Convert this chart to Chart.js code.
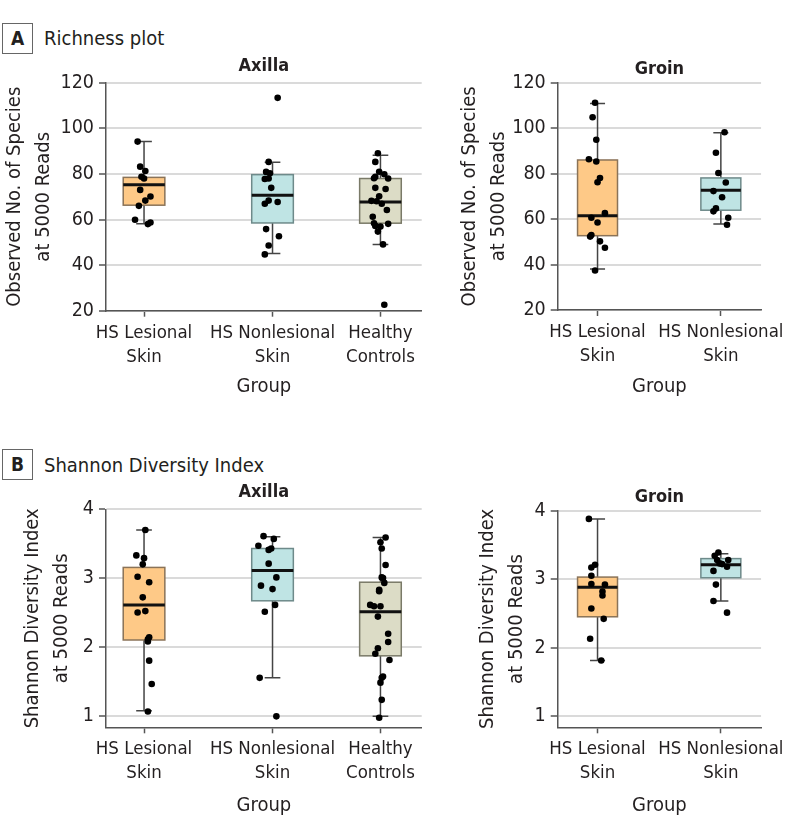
<!DOCTYPE html>
<html>
<head>
<meta charset="utf-8">
<script src="https://cdn.jsdelivr.net/npm/chart.js@4"></script>
<style>
  body { margin: 0; background: #fff; font-family: 'DejaVu Sans Condensed', 'Liberation Sans', Arial, sans-serif; color: #231f20; }
  #page { position: relative; width: 794px; height: 839px; overflow: hidden; }
  .tag { position: absolute; left: 2px; width: 29px; height: 29px; border: 1.5px solid #666; font-weight: bold; font-size: 19px; line-height: 29px; text-align: center; }
  .head { position: absolute; left: 44px; font-size: 20px; line-height: 24px; }
  canvas { position: absolute; }
</style>
</head>
<body>
<div id="page">
  <div class="tag" style="top:23px">A</div>
  <div class="head" style="top:26px">Richness plot</div>
  <div class="tag" style="top:449px">B</div>
  <div class="head" style="top:453px">Shannon Diversity Index</div>
  <canvas id="richAxilla" width="440" height="350" style="left:0;top:55px"></canvas>
  <canvas id="richGroin" width="354" height="350" style="left:440px;top:55px"></canvas>
  <canvas id="shanAxilla" width="440" height="343" style="left:0;top:481px"></canvas>
  <canvas id="shanGroin" width="354" height="343" style="left:440px;top:481px"></canvas>
</div>
<script>
// groups and ticks
const groupLabels = [['HS Lesional', 'Skin'], ['HS Nonlesional', 'Skin'], ['Healthy', 'Controls']];
const richTicks = [20, 40, 60, 80, 100, 120];
const shanTicks = [1, 2, 3, 4];

// box stats: [whisker low, Q1, median, Q3, whisker high]
const richAxillaBoxes = [[58.1, 66.3, 75.3, 78.5, 94.2], [45.1, 58.5, 70.7, 79.7, 85.1], [49.1, 58.4, 67.7, 78.0, 88.2]];
const richGroinBoxes = [[38.0, 52.7, 61.5, 86.0, 110.8], [57.8, 63.9, 72.7, 78.1, 98.0]];
const shanAxillaBoxes = [[1.07, 2.10, 2.61, 3.155, 3.70], [1.55, 2.67, 3.11, 3.43, 3.60], [0.99, 1.87, 2.51, 2.94, 3.59]];
const shanGroinBoxes = [[1.81, 2.45, 2.88, 3.03, 3.88], [2.68, 3.02, 3.21, 3.30, 3.37]];

// samples (values) and their horizontal jitter (fraction of group spacing)
const richAxLes = [94.2, 83.2, 81.3, 78.8, 78.0, 73.0, 70.1, 68.3, 66.0, 59.9, 58.0, 58.7];
const richAxLesJit = [-0.05, -0.03, 0.01, -0.02, 0, -0.03, 0.05, 0.01, -0.04, -0.07, 0.03, 0.05];
const richAxNon = [113.4, 85.3, 80.9, 80.3, 77.8, 78.0, 73.9, 68.3, 66.9, 67.7, 55.8, 52.7, 48.6, 44.7];
const richAxNonJit = [0.04, -0.03, -0.05, -0.02, -0.06, -0.03, -0.01, -0.03, -0.06, 0.04, -0.05, 0.05, -0.03, -0.06];
const richAxCtl = [89.1, 85.3, 81.0, 78.8, 78.1, 79.9, 78.0, 73.9, 73.4, 70.2, 68.2, 68.0, 66.9, 64.2, 61.2, 58.4, 58.1, 57.2, 56.9, 54.7, 49.1, 22.6];
const richAxCtlJit = [-0.02, -0.04, -0.01, -0.04, -0.05, 0.03, 0.06, -0.04, 0.04, -0.01, -0.07, -0.03, 0.01, 0.05, -0.06, -0.05, 0.06, -0.04, 0, -0.02, 0.02, 0.03];
const richGrLes = [111.2, 104.8, 94.9, 86.3, 85.3, 78.1, 76.2, 62.6, 60.6, 58.5, 53.0, 52.3, 50.2, 47.4, 37.4];
const richGrLesJit = [-0.02, -0.04, -0.01, -0.07, -0.01, 0.02, 0, 0.06, -0.05, 0, -0.05, -0.06, 0.02, 0.06, -0.02];
const richGrNon = [98.2, 89.2, 80.3, 76.1, 72.3, 69.6, 64.7, 63.4, 60.6, 57.5];
const richGrNonJit = [0.03, -0.04, -0.02, 0.04, -0.06, 0.01, -0.04, -0.06, 0.06, 0.05];

const shanAxLes = [3.70, 3.33, 3.29, 3.20, 3.02, 2.94, 2.72, 2.50, 2.52, 2.14, 2.11, 2.08, 1.80, 1.46, 1.06];
const shanAxLesJit = [0.01, -0.06, 0, -0.01, -0.05, 0.04, -0.01, -0.05, 0.01, 0.04, 0.03, 0.03, 0.04, 0.06, 0.03];
const shanAxNon = [3.61, 3.57, 3.47, 3.41, 3.43, 3.21, 3.01, 2.89, 2.84, 2.61, 2.51, 1.55, 0.99];
const shanAxNonJit = [-0.07, 0.01, -0.11, -0.03, -0.01, -0.03, 0.03, -0.09, 0, 0.02, -0.06, -0.1, 0.03];
const shanAxCtl = [3.59, 3.52, 3.43, 3.19, 3.01, 3.00, 2.93, 2.83, 2.81, 2.61, 2.59, 2.59, 2.44, 2.19, 2.07, 1.98, 1.90, 1.81, 1.57, 1.55, 1.48, 1.23, 0.97];
const shanAxCtlJit = [0.04, 0, 0.01, 0.04, 0.01, 0.02, 0.03, -0.01, -0.01, -0.08, -0.05, 0, -0.02, 0.06, 0.06, -0.02, -0.04, 0.07, 0.02, 0.01, 0, 0.01, -0.01];
const shanGrLes = [3.88, 3.21, 3.17, 3.05, 2.93, 2.92, 2.82, 2.76, 2.57, 2.42, 2.13, 1.81];
const shanGrLesJit = [-0.07, -0.02, -0.05, -0.05, -0.05, 0.06, 0.04, 0.04, -0.05, 0.05, -0.06, 0.03];
const shanGrNon = [3.39, 3.34, 3.28, 3.28, 3.23, 3.22, 3.18, 3.12, 2.92, 2.68, 2.51];
const shanGrNonJit = [-0.02, -0.05, -0.03, 0.06, -0.01, 0.01, 0.05, -0.06, -0.04, -0.06, 0.05];

// styling
const boxFills = ['#fec987', '#bfe4e4', '#dcdcc6'];
const boxBorders = ['#8a7358', '#6e8a8a', '#7a7a68'];
const axisColor = '#555';
const textColor = '#231f20';

Chart.defaults.font.family = "'DejaVu Sans Condensed', 'Liberation Sans', Arial, sans-serif";
Chart.defaults.color = textColor;

function boxPlugin(stats, pos) {
  return {
    id: 'boxes',
    beforeDatasetsDraw(chart) {
      const { ctx, scales: { x, y } } = chart;
      const half = 0.162, cap = 0.061;
      stats.forEach((s, i) => {
        const cx = x.getPixelForValue(pos[i]);
        const l = x.getPixelForValue(pos[i] - half), r = x.getPixelForValue(pos[i] + half);
        const cl = x.getPixelForValue(pos[i] - cap), cr = x.getPixelForValue(pos[i] + cap);
        const [lo, q1, med, q3, hi] = s.map(v => y.getPixelForValue(v));
        ctx.save();
        ctx.strokeStyle = '#444';
        ctx.lineWidth = 1.5;
        ctx.beginPath();
        ctx.moveTo(cx, q3); ctx.lineTo(cx, hi);
        ctx.moveTo(cl, hi); ctx.lineTo(cr, hi);
        ctx.moveTo(cx, q1); ctx.lineTo(cx, lo);
        ctx.moveTo(cl, lo); ctx.lineTo(cr, lo);
        ctx.stroke();
        ctx.fillStyle = boxFills[i];
        ctx.fillRect(l, q3, r - l, q1 - q3);
        ctx.strokeStyle = boxBorders[i];
        ctx.strokeRect(l, q3, r - l, q1 - q3);
        ctx.strokeStyle = '#111';
        ctx.lineWidth = 3;
        ctx.beginPath();
        ctx.moveTo(l, med); ctx.lineTo(r, med);
        ctx.stroke();
        ctx.restore();
      });
    }
  };
}

function makePlot(id, cfg) {
  const points = [];
  cfg.samples.forEach((vals, i) => {
    vals.forEach((v, j) => points.push({ x: cfg.pos[i] + cfg.jitter[i][j], y: v }));
  });
  return new Chart(document.getElementById(id), {
    type: 'scatter',
    data: {
      datasets: [{
        data: points,
        backgroundColor: '#000',
        borderWidth: 0,
        pointRadius: 3.3
      }]
    },
    plugins: [boxPlugin(cfg.stats, cfg.pos)],
    options: {
      responsive: false,
      animation: false,
      events: [],
      layout: { padding: { left: 0, right: cfg.padRight, top: 0, bottom: 0 } },
      plugins: {
        legend: { display: false },
        tooltip: { enabled: false },
        title: {
          display: true,
          fullSize: false,
          text: cfg.title,
          color: textColor,
          font: { size: 18, weight: 'bold' },
          padding: { top: cfg.titleTop, bottom: cfg.titleBottom }
        }
      },
      scales: {
        x: {
          type: 'linear',
          min: cfg.xMin,
          max: cfg.xMax,
          afterBuildTicks: s => { s.ticks = cfg.pos.map(v => ({ value: v })); },
          afterFit: s => { s.height = cfg.xHeight; },
          ticks: {
            callback: (v, i) => groupLabels[i],
            font: { size: 18.5, lineHeight: 1.3 },
            color: textColor,
            padding: 4,
            maxRotation: 0,
            autoSkip: false
          },
          grid: { drawOnChartArea: false, drawTicks: true, tickLength: 6, tickColor: axisColor, tickWidth: 1.5 },
          border: { display: true, color: axisColor, width: 1.5 },
          title: { display: true, text: 'Group', font: { size: 20 }, color: textColor, padding: { top: 0, bottom: cfg.groupPad } }
        },
        y: {
          min: cfg.yMin,
          max: cfg.yMax,
          afterBuildTicks: s => { s.ticks = cfg.yTicks.map(v => ({ value: v })); },
          afterFit: s => { s.width = cfg.yWidth; },
          ticks: { font: { size: 19.5 }, color: textColor, padding: 5 },
          grid: { color: '#dadada', lineWidth: 2, drawTicks: true, tickLength: 7, tickColor: axisColor, tickWidth: 1.5 },
          border: { display: true, color: axisColor, width: 1.5 },
          title: { display: true, text: cfg.yTitle, font: { size: 20, lineHeight: 1.45 }, color: textColor, padding: { top: cfg.yTitlePad, bottom: 0 } }
        }
      }
    }
  });
}

const axillaPos = [0, 1, 1.84];
const groinPos = [0, 1];
const richTitle = ['Observed No. of Species', 'at 5000 Reads'];
const shanTitle = ['Shannon Diversity Index', 'at 5000 Reads'];

makePlot('richAxilla', {
  title: 'Axilla', titleTop: 0.6, titleBottom: 5.6,
  stats: richAxillaBoxes, pos: axillaPos,
  samples: [richAxLes, richAxNon, richAxCtl], jitter: [richAxLesJit, richAxNonJit, richAxCtlJit],
  xMin: -0.296, xMax: 2.161, yMin: 20, yMax: 120, yTicks: richTicks,
  yWidth: 106, xHeight: 94.3, padRight: 18.3, groupPad: 6, yTitle: richTitle, yTitlePad: 0
});
makePlot('richGroin', {
  title: 'Groin', titleTop: 3.2, titleBottom: 2.9,
  stats: richGroinBoxes, pos: groinPos,
  samples: [richGrLes, richGrNon], jitter: [richGrLesJit, richGrNonJit],
  xMin: -0.323, xMax: 1.326, yMin: 20, yMax: 120, yTicks: richTicks,
  yWidth: 117.7, xHeight: 95, padRight: 25.7, groupPad: 6, yTitle: richTitle, yTitlePad: 15.5
});
makePlot('shanAxilla', {
  title: 'Axilla', titleTop: 0.9, titleBottom: 5.8,
  stats: shanAxillaBoxes, pos: axillaPos,
  samples: [shanAxLes, shanAxNon, shanAxCtl], jitter: [shanAxLesJit, shanAxNonJit, shanAxCtlJit],
  xMin: -0.296, xMax: 2.161, yMin: 0.831, yMax: 4, yTicks: shanTicks,
  yWidth: 106, xHeight: 96.7, padRight: 18.3, groupPad: 6.5, yTitle: shanTitle, yTitlePad: 18.5
});
makePlot('shanGroin', {
  title: 'Groin', titleTop: 5.5, titleBottom: 2.6,
  stats: shanGroinBoxes, pos: groinPos,
  samples: [shanGrLes, shanGrNon], jitter: [shanGrLesJit, shanGrNonJit],
  xMin: -0.323, xMax: 1.326, yMin: 0.835, yMax: 4, yTicks: shanTicks,
  yWidth: 117.7, xHeight: 96.7, padRight: 25.7, groupPad: 6.5, yTitle: shanTitle, yTitlePad: 33.2
});
</script>
</body>
</html>
